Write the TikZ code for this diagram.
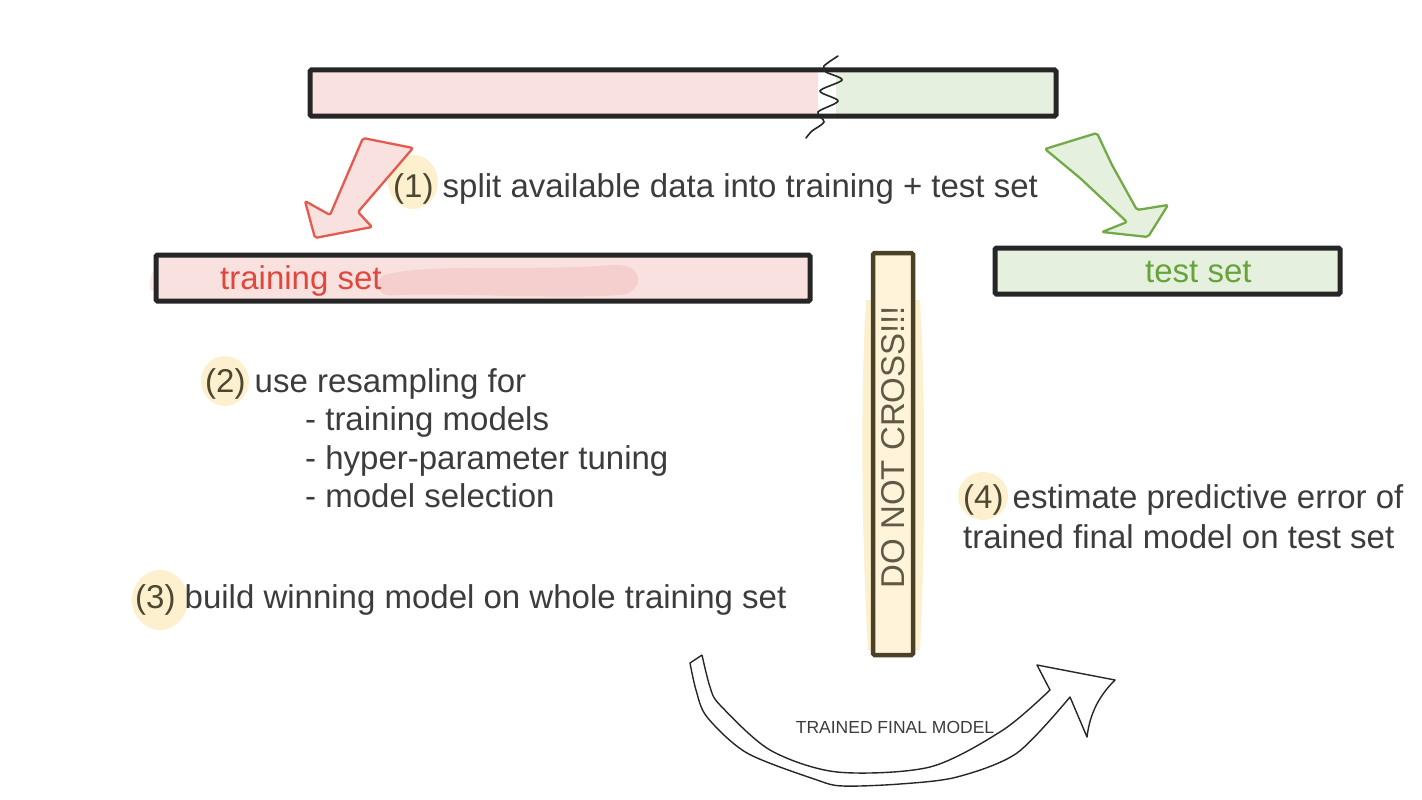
\documentclass[tikz,border=0pt]{standalone}
\usepackage{fontspec}
\setmainfont{Liberation Sans}
\definecolor{txt}{HTML}{3C3C3C}
\definecolor{num}{HTML}{4D4730}
\definecolor{hl}{HTML}{FDF0CF}
\definecolor{pinkf}{HTML}{F9E1E0}
\definecolor{pinkd}{HTML}{F2C8C5}
\definecolor{greenf}{HTML}{E6F0DE}
\definecolor{redc}{HTML}{E0483D}
\definecolor{redl}{HTML}{E35A4F}
\definecolor{greenc}{HTML}{67A33B}
\definecolor{greenl}{HTML}{72AA48}
\definecolor{creamf}{HTML}{FFF4DA}
\definecolor{creamb}{HTML}{4A4127}
\definecolor{barb}{HTML}{262626}
\begin{document}
\begin{tikzpicture}[x=1pt,y=-1pt,
  bigtext/.style={font=\fontsize{33}{39}\selectfont, text=txt, inner sep=0pt, anchor=base west},
  barbox/.style={draw=barb, line width=5pt, rounded corners=1.5pt, inner sep=0pt},
  hlblob/.style={fill=hl},
  blockarrow/.style={line width=2.3pt, rounded corners=2pt, line join=round}]
\useasboundingbox (0,0) rectangle (1422,800);

% ---------- highlight blobs behind the numbers ----------
\fill[hlblob] (413,182) ellipse [x radius=25, y radius=27];
\fill[hlblob] (225,381) ellipse [x radius=24, y radius=25];
\fill[hlblob] (160,600) ellipse [x radius=28, y radius=30];
\fill[hlblob] (983,496) ellipse [x radius=25, y radius=24];

% ---------- top bar (all data) ----------
\fill[pinkf] (312,72) rectangle (818,114);
\fill[greenf] (836,72) rectangle (1054,114);
\node[barbox, minimum width=746pt, minimum height=46pt] (data) at (683,93) {};
\draw[barb, line width=1.6pt, line cap=round]
  plot[smooth] coordinates {(838,56) (824,66) (826,72) (842,80) (820,91) (838,101) (818,112) (824,122) (812,131) (806,138)};

% ---------- training set bar ----------
\fill[pinkf] (158,257) rectangle (808,299);
\fill[pinkf, opacity=0.7] (150,290) .. controls (148,270) and (160,258) .. (180,262) -- (180,298) -- cycle;
\fill[pinkd, opacity=0.7, rounded corners=10pt] (375,278) .. controls (420,264) and (520,270) .. (600,266)
  .. controls (640,263) and (640,280) .. (632,294) .. controls (560,300) and (450,292) .. (380,296) -- cycle;
\node[barbox, minimum width=654pt, minimum height=46pt] (train) at (483,278) {};
\node[bigtext, text=redc] (trainlbl) at (220,289) {training set};

% ---------- test set bar ----------
\fill[greenf] (997,250) rectangle (1338,292);
\node[barbox, minimum width=345pt, minimum height=46pt] (test) at (1167.5,271) {};
\node[bigtext, text=greenc] (testlbl) at (1145,282) {test set};

% ---------- DO NOT CROSS bar ----------
\fill[hl] (866,300) .. controls (860,400) and (862,550) .. (868,650) -- (920,650) .. controls (925,550) and (926,400) .. (920,300) -- cycle;
\node[draw=creamb, fill=creamf, line width=4.5pt, rounded corners=1.5pt, inner sep=0pt,
      minimum width=40pt, minimum height=402pt] (wall) at (893,454) {};
\node[font=\fontsize{33}{39}\selectfont, text=num!90!white, rotate=90, inner sep=0pt] (walllbl) at (893,447) {DO NOT CROSS!!!};

% ---------- red block arrow ----------
\draw[blockarrow, draw=redl, fill=pinkf]
  (363,138) -- (413,148) -- (358,212) -- (372,227) -- (315,238) -- (305,201) -- (330,215) -- cycle;

% ---------- green block arrow ----------
\draw[blockarrow, draw=greenl, fill=greenf]
  (1045,149) -- (1097,133) -- (1112,165) -- (1137,210) -- (1168,205) -- (1148,237) -- (1102,232) -- (1127,222) -- (1080,178) -- cycle;

% ---------- texts ----------
\node[bigtext] (s1) at (393,197) {\textcolor{num}{(1)} split available data into training + test set};
\node[bigtext] (s2) at (205,392) {\textcolor{num}{(2)} use resampling for};
\node[bigtext] (s2a) at (305,430) {- training models};
\node[bigtext] (s2b) at (305,469) {- hyper-parameter tuning};
\node[bigtext] (s2c) at (305,507) {- model selection};
\node[bigtext] (s3) at (135,608) {\textcolor{num}{(3)} build winning model on whole training set};
\node[bigtext] (s4) at (963,508) {\textcolor{num}{(4)} estimate predictive error of};
\node[bigtext] (s4b) at (963,548) {trained final model on test set};

% ---------- curved hand-drawn arrow ----------
\draw[draw=barb, line width=1.4pt, line join=round]
  (702,655) -- (690,663)
  -- plot[smooth] coordinates {(690,663) (696,690) (707,717) (747,753) (817,780) (843,786) (900,784) (957,777) (1017,753) (1070,697)}
  -- (1087,737) .. controls (1090,712) and (1100,695) .. (1115,680)
  -- (1037,665) -- (1050,690)
  -- plot[smooth] coordinates {(1050,690) (1003,730) (930,767) (837,772) (770,750) (720,705) (710,687) (702,655)};
\node[font=\fontsize{17.5}{20}\selectfont, text=txt, inner sep=0pt] (model) at (895,727) {TRAINED FINAL MODEL};
\end{tikzpicture}
\end{document}
